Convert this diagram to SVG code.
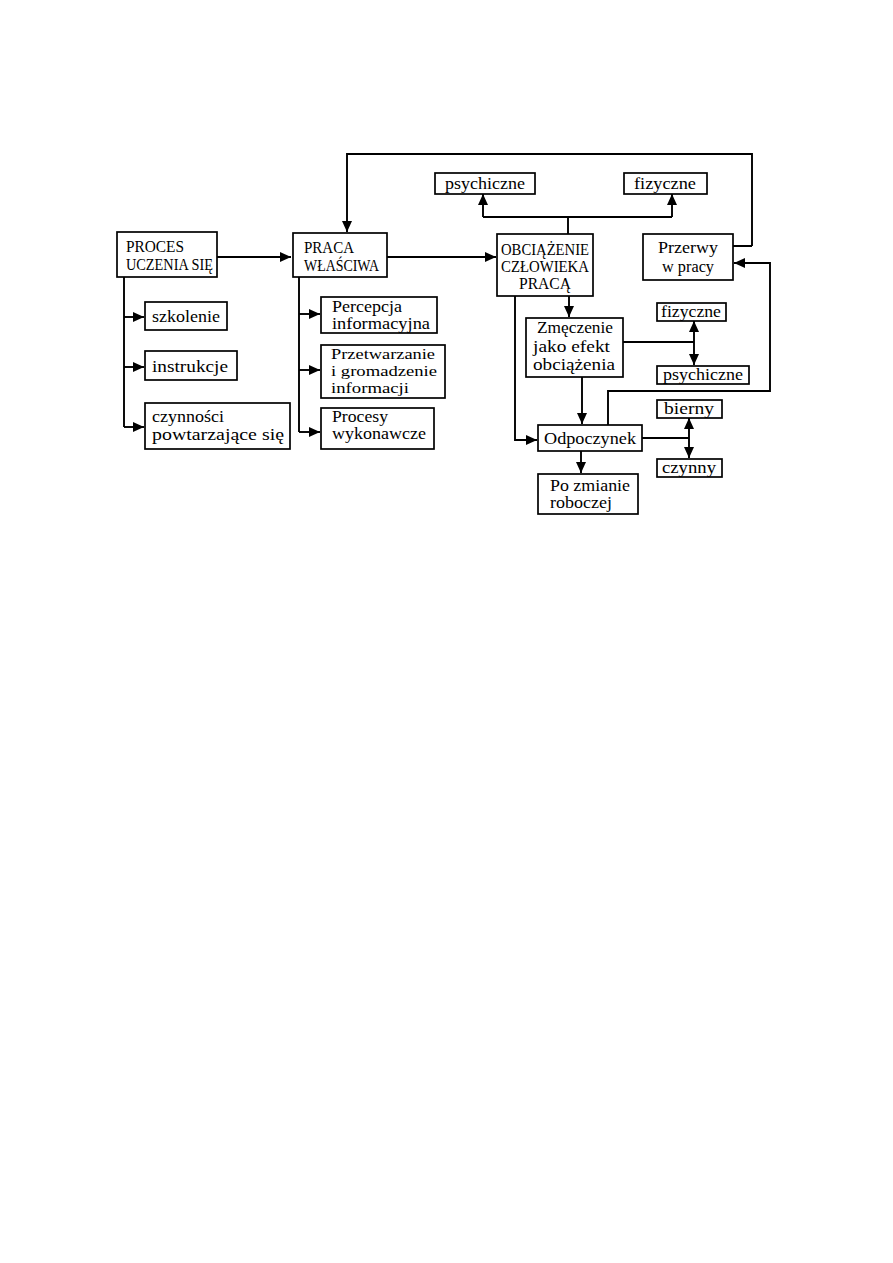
<svg xmlns="http://www.w3.org/2000/svg" width="893" height="1263" viewBox="0 0 893 1263">
<style>
.box{fill:#fff;stroke:#000;stroke-width:1.7}
.t{font-family:"Liberation Serif","Times New Roman",serif;font-size:17px;fill:#000}
.s{font-size:15.5px}
.c{fill:none;stroke:#000;stroke-width:1.9}
</style>
<defs>
<marker id="ar" markerUnits="userSpaceOnUse" markerWidth="12" markerHeight="10" refX="11" refY="5" orient="auto">
<path d="M0,0 L11,5 L0,10 Z" fill="#000"/>
</marker>
</defs>
<rect width="893" height="1263" fill="#fff"/>
<g id="connectors">
<path class="c" d="M217,257 H291" marker-end="url(#ar)"/>
<path class="c" d="M387,257 H496" marker-end="url(#ar)"/>
<path class="c" d="M752,246 H733 M752,246 V154 H347 V232" marker-end="url(#ar)"/>
<path class="c" d="M568,234 V217 M483,217 H672"/>
<path class="c" d="M483,217 V194" marker-end="url(#ar)"/>
<path class="c" d="M672,217 V194" marker-end="url(#ar)"/>
<path class="c" d="M124,277 V427"/>
<path class="c" d="M124,317 H144" marker-end="url(#ar)"/>
<path class="c" d="M124,367 H144" marker-end="url(#ar)"/>
<path class="c" d="M124,427 H144" marker-end="url(#ar)"/>
<path class="c" d="M299,277 V432"/>
<path class="c" d="M299,314 H320" marker-end="url(#ar)"/>
<path class="c" d="M299,370 H320" marker-end="url(#ar)"/>
<path class="c" d="M299,432 H320" marker-end="url(#ar)"/>
<path class="c" d="M569,296 V317" marker-end="url(#ar)"/>
<path class="c" d="M515,296 V440 H537" marker-end="url(#ar)"/>
<path class="c" d="M623,342 H694"/>
<path class="c" d="M694,342 V321" marker-end="url(#ar)"/>
<path class="c" d="M694,342 V365" marker-end="url(#ar)"/>
<path class="c" d="M582,377 V424" marker-end="url(#ar)"/>
<path class="c" d="M608,425 V391 H770 V263 H734" marker-end="url(#ar)"/>
<path class="c" d="M642,438 H689"/>
<path class="c" d="M689,438 V418" marker-end="url(#ar)"/>
<path class="c" d="M689,438 V458" marker-end="url(#ar)"/>
<path class="c" d="M581,451 V473" marker-end="url(#ar)"/>
</g>
<g id="proces">
<rect class="box" x="117" y="232" width="100" height="45"/>
<text class="t" x="126" y="252" font-size="16" textLength="58" lengthAdjust="spacingAndGlyphs">PROCES</text>
<text class="t" x="126" y="270" font-size="16" textLength="87" lengthAdjust="spacingAndGlyphs">UCZENIA SIĘ</text>
</g>
<g id="praca">
<rect class="box" x="293" y="233" width="94" height="44"/>
<text class="t" x="304" y="253" font-size="16" textLength="50" lengthAdjust="spacingAndGlyphs">PRACA</text>
<text class="t" x="304" y="271" font-size="16" textLength="75" lengthAdjust="spacingAndGlyphs">WŁAŚCIWA</text>
</g>
<g id="obciazenie">
<rect class="box" x="497" y="234" width="96" height="62"/>
<text class="t" x="545" y="255" font-size="16" text-anchor="middle" textLength="88" lengthAdjust="spacingAndGlyphs">OBCIĄŻENIE</text>
<text class="t" x="545" y="272" font-size="16" text-anchor="middle" textLength="88" lengthAdjust="spacingAndGlyphs">CZŁOWIEKA</text>
<text class="t" x="545" y="289" font-size="16" text-anchor="middle" textLength="52" lengthAdjust="spacingAndGlyphs">PRACĄ</text>
</g>
<g id="przerwy">
<rect class="box" x="643" y="234" width="90" height="46"/>
<text class="t" x="658" y="253" textLength="60" lengthAdjust="spacingAndGlyphs">Przerwy</text>
<text class="t" x="662" y="272" textLength="52" lengthAdjust="spacingAndGlyphs">w pracy</text>
</g>
<g id="psychiczne1">
<rect class="box" x="435" y="173" width="100" height="21"/>
<text class="t" x="485" y="189" text-anchor="middle" textLength="80" lengthAdjust="spacingAndGlyphs">psychiczne</text>
</g>
<g id="fizyczne1">
<rect class="box" x="624" y="173" width="83" height="21"/>
<text class="t" x="665" y="189" text-anchor="middle" textLength="62" lengthAdjust="spacingAndGlyphs">fizyczne</text>
</g>
<g id="szkolenie">
<rect class="box" x="145" y="302" width="82" height="28"/>
<text class="t" x="152" y="322" textLength="68" lengthAdjust="spacingAndGlyphs">szkolenie</text>
</g>
<g id="instrukcje">
<rect class="box" x="145" y="351" width="92" height="29"/>
<text class="t" x="152" y="372" textLength="76" lengthAdjust="spacingAndGlyphs">instrukcje</text>
</g>
<g id="czynnosci">
<rect class="box" x="145" y="403" width="145" height="46"/>
<text class="t" x="152" y="422" textLength="72" lengthAdjust="spacingAndGlyphs">czynności</text>
<text class="t" x="152" y="440" textLength="132" lengthAdjust="spacingAndGlyphs">powtarzające się</text>
</g>
<g id="percepcja">
<rect class="box" x="321" y="297" width="116" height="36"/>
<text class="t" x="332" y="312" textLength="70" lengthAdjust="spacingAndGlyphs">Percepcja</text>
<text class="t" x="332" y="329" textLength="98" lengthAdjust="spacingAndGlyphs">informacyjna</text>
</g>
<g id="przetwarzanie">
<rect class="box" x="321" y="345" width="124" height="53"/>
<text class="t s" x="331" y="359" textLength="104" lengthAdjust="spacingAndGlyphs">Przetwarzanie</text>
<text class="t s" x="331" y="376" textLength="106" lengthAdjust="spacingAndGlyphs">i gromadzenie</text>
<text class="t s" x="331" y="393" textLength="78" lengthAdjust="spacingAndGlyphs">informacji</text>
</g>
<g id="procesy">
<rect class="box" x="321" y="408" width="113" height="41"/>
<text class="t" x="332" y="422" textLength="56" lengthAdjust="spacingAndGlyphs">Procesy</text>
<text class="t" x="332" y="439" textLength="94" lengthAdjust="spacingAndGlyphs">wykonawcze</text>
</g>
<g id="zmeczenie">
<rect class="box" x="526" y="318" width="97" height="59"/>
<text class="t" x="537" y="333" textLength="76" lengthAdjust="spacingAndGlyphs">Zmęczenie</text>
<text class="t" x="533" y="352" textLength="77" lengthAdjust="spacingAndGlyphs">jako efekt</text>
<text class="t" x="533" y="370" textLength="82" lengthAdjust="spacingAndGlyphs">obciążenia</text>
</g>
<g id="fizyczne2">
<rect class="box" x="657" y="303" width="69" height="18"/>
<text class="t" x="691" y="317" text-anchor="middle" textLength="60" lengthAdjust="spacingAndGlyphs">fizyczne</text>
</g>
<g id="psychiczne2">
<rect class="box" x="657" y="366" width="92" height="18"/>
<text class="t" x="703" y="380" text-anchor="middle" textLength="80" lengthAdjust="spacingAndGlyphs">psychiczne</text>
</g>
<g id="odpoczynek">
<rect class="box" x="538" y="425" width="104" height="26"/>
<text class="t" x="590" y="444" text-anchor="middle" textLength="92" lengthAdjust="spacingAndGlyphs">Odpoczynek</text>
</g>
<g id="bierny">
<rect class="box" x="657" y="400" width="65" height="18"/>
<text class="t" x="689" y="414" text-anchor="middle" textLength="50" lengthAdjust="spacingAndGlyphs">bierny</text>
</g>
<g id="czynny">
<rect class="box" x="657" y="459" width="65" height="18"/>
<text class="t" x="689" y="473" text-anchor="middle" textLength="54" lengthAdjust="spacingAndGlyphs">czynny</text>
</g>
<g id="pozmianie">
<rect class="box" x="538" y="474" width="100" height="40"/>
<text class="t" x="550" y="491" textLength="80" lengthAdjust="spacingAndGlyphs">Po zmianie</text>
<text class="t" x="550" y="508" textLength="62" lengthAdjust="spacingAndGlyphs">roboczej</text>
</g>
</svg>
